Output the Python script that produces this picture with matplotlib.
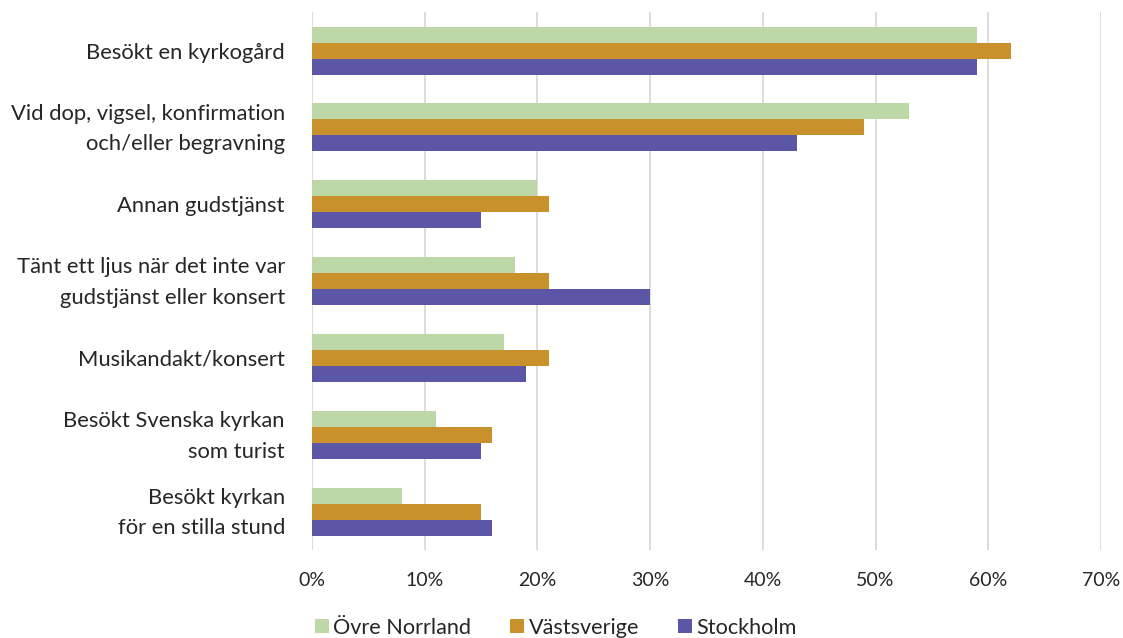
import numpy as np
import matplotlib.pyplot as plt
import matplotlib.transforms as mtransforms
from matplotlib.patches import Patch

plt.rcParams['font.family'] = ['Lato', 'DejaVu Sans']

categories = [
    'Besökt en kyrkogård',
    'Vid dop, vigsel, konfirmation\noch/eller begravning',
    'Annan gudstjänst',
    'Tänt ett ljus när det inte var\ngudstjänst eller konsert',
    'Musikandakt/konsert',
    'Besökt Svenska kyrkan\nsom turist',
    'Besökt kyrkan\nför en stilla stund',
]
series_names = ['Övre Norrland', 'Västsverige', 'Stockholm']
ovre_norrland = [59, 53, 20, 18, 17, 11, 8]
vastsverige = [62, 49, 21, 21, 21, 16, 15]
stockholm = [59, 43, 15, 30, 19, 15, 16]
colors = ['#BDD7A6', '#C8912C', '#5B56A5']

fig = plt.figure(figsize=(11.23, 6.38), dpi=100)
ax = fig.add_axes([0.2778, 0.138, 0.7026, 0.843])

y = np.arange(len(categories))
h = 0.208
for i, (vals, c) in enumerate(zip([ovre_norrland, vastsverige, stockholm], colors)):
    ax.barh(y + (i - 1) * h, vals, height=h, color=c, zorder=2)

ax.set_xlim(0, 70)
ax.set_ylim(len(categories) - 0.5, -0.5)
ax.set_xticks(range(0, 71, 10))
ax.set_xticklabels([f'{v}%' for v in range(0, 71, 10)])
ax.set_yticks(y)
ax.set_yticklabels(categories, linespacing=1.65)
ax.xaxis.grid(True, color='#D9D9D9', linewidth=1.3, zorder=0)
ax.tick_params(axis='both', length=0, colors='#262626')
ax.tick_params(axis='y', pad=19.5, labelsize=15.8)
ax.tick_params(axis='x', pad=16, labelsize=14)
for s in ax.spines.values():
    s.set_visible(False)

# nudge two-line labels up a little
shift = mtransforms.ScaledTranslation(0, 4 / 72, fig.dpi_scale_trans)
for lbl in ax.get_yticklabels():
    if '\n' in lbl.get_text():
        lbl.set_transform(lbl.get_transform() + shift)

handles = [Patch(facecolor=c, label=n) for c, n in zip(colors, series_names)]
fig.legend(handles=handles, loc='center', bbox_to_anchor=(0.495, 0.016), ncol=3,
           frameon=False, fontsize=15.6, handlelength=0.65, handleheight=0.65,
           handletextpad=0.2, columnspacing=1.8, labelcolor='#262626')

fig.savefig('out.png', dpi=100)
